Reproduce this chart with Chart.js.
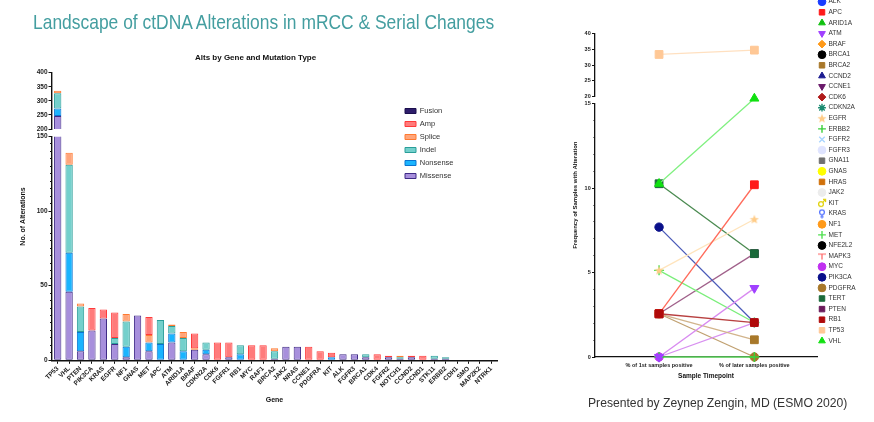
<!DOCTYPE html>
<html><head><meta charset="utf-8">
<script src="https://cdn.jsdelivr.net/npm/chart.js@4.4.1/dist/chart.umd.min.js"></script>
<style>
html,body{margin:0;padding:0;width:874px;height:422px;overflow:hidden;background:#fff;}
#wrap{position:relative;width:874px;height:422px;overflow:hidden;}
canvas{position:absolute;}
.t{position:absolute;white-space:nowrap;transform-origin:0 0;font-family:'Liberation Sans',Arial,sans-serif;}
</style></head><body>
<div id="wrap">
<canvas id="barChart" width="511" height="422" style="left:0;top:0"></canvas>
<canvas id="barLegend" width="140" height="110" style="left:390px;top:90px"></canvas>
<canvas id="lineChart" width="285" height="422" style="left:545px;top:0"></canvas>
<canvas id="lineLegend" width="69" height="380" style="left:805px;top:-10px"></canvas>
<div class="t" style="left:33px;top:10.5px;font-size:21px;line-height:21px;color:#449ea0;transform:scaleX(0.83)">Landscape of ctDNA Alterations in mRCC &amp; Serial Changes</div>
<div class="t" style="left:588px;top:396px;font-size:13.5px;line-height:13.5px;color:#333;transform:scaleX(0.9)">Presented by Zeynep Zengin, MD (ESMO 2020)</div>
</div>
<script>
// ---------- DATA: left chart ----------
const genes = ['TP53','VHL','PTEN','PIK3CA','KRAS','EGFR','NF1','GNAS','MET','APC','ATM','ARID1A','BRAF','CDKN2A','CDK6','FGFR1','RB1','MYC','RAF1','BRCA2','JAK2','NRAS','CCNE1','PDGFRA','KIT','ALK','FGFR3','BRCA1','CDK4','FGFR2','NOTCH1','CCND2','CCND1','STK11','ERBB2','CDH1','SMO','MAP2K2','NTRK1'];
const missense = [246,46,6,20,28,11,2,30,6,0,12,0,7,4,0,2,0,0,0,1,9,9,0,0,0,4,4,2,0,2,1,2,0,1,1,0,0,0,0];
const nonsense = [27,26,13,0,0,0,7,0,6,11,6,6,0,3,0,0,4,0,0,0,0,0,0,0,2,0,0,0,0,0,0,0,0,0,0,0,0,0,0];
const indel    = [54,59,17,0,0,4,17,0,0,16,5,9,0,5,0,0,6,0,0,5,0,0,0,0,0,0,0,2,0,0,1,0,0,2,1,0,0,0,0];
const splice   = [9,8,2,0,0,0,5,0,5,0,1,4,1,0,0,0,0,0,0,2,0,0,0,0,0,0,0,0,0,0,1,0,0,0,0,0,0,0,0];
const amp      = [0,0,0,15,6,17,0,0,12,0,0,0,10,0,12,10,0,10,10,0,0,0,9,6,3,0,0,0,4,1,0,1,3,0,0,0,0,0,0];
const fusion   = [0,0,0,0,0,0,0,0,0,0,0,0,0,0,0,0,0,0,0,0,0,0,0,0,0,0,0,0,0,0,0,0,0,0,0,0,0,0,0];
const seriesNames = ['Missense','Nonsense','Indel','Splice','Amp','Fusion'];
const seriesValues = [missense, nonsense, indel, splice, amp, fusion];

// ---------- DATA: right chart ----------
const timepoints = ['% of 1st samples positive', '% of later samples positive'];
const genesR = ['ALK','APC','ARID1A','ATM','BRAF','BRCA1','BRCA2','CCND2','CCNE1','CDK6','CDKN2A','EGFR','ERBB2','FGFR2','FGFR3','GNA11','GNAS','HRAS','JAK2','KIT','KRAS','NF1','MET','NFE2L2','MAPK3','MYC','PIK3CA','PDGFRA','TERT','PTEN','RB1','TP53','VHL'];
const firstPct = [null,2.56,null,0,null,null,2.56,null,null,null,null,5.13,0,null,null,null,null,null,null,null,null,null,5.13,null,null,0,7.69,2.56,10.26,2.56,2.56,33.33,10.26];
const laterPct = [null,10.2,null,4.08,null,null,1.02,null,null,null,null,8.16,0,null,null,null,null,null,null,null,null,null,2.04,null,null,2.04,2.04,0,6.12,6.12,2.04,34.69,15.31];

// ---------- STYLES ----------
const F = "'Liberation Sans', Arial, sans-serif";
Chart.defaults.font.family = F;
Chart.defaults.color = '#222';
Chart.defaults.animation = false;
Chart.defaults.responsive = false;
Chart.defaults.events = [];

const barFills   = ['#a78fdc','#1ab4fe','#74d0cc','#ffa57a','#ff7b7b','#2e1d6b'];
const barBorders = ['#3f2b86','#0a74d0','#2a9e99','#ff7a30','#ff3a3a','#1b0f4d'];

const markerStyles = ['circle','rect','triangle','triangleDown','rectRot','circle','rect','triangle','triangleDown','rectRot','star','star5','cross','crossRot','circle','rect','circle','rect','circle','male','female','circle','cross','circle','tack','circle','circle','circle','rect','rect','rect','rect','triangle'];
const markerColors = ['#1a3cff','#ff1a1a','#10c010','#a040ff','#ff9a1a','#000000','#a8782a','#1a1a90','#6a1a6a','#b01a1a','#1a8a70','#ffcc88','#3ad03a','#a8d4ff','#dfe4ff','#707070','#ffff00','#d0700a','#ececec','#e0d000','#5070ff','#ff9a1a','#50e050','#000000','#ff6060','#c030f0','#0a108a','#a8782a','#1a6a3a','#6a1a5a','#b00a0a','#ffc896','#10e010'];
const lineColors = ['#1a3cff','#ff6a5a','#10c010','#d88af0','#ff9a1a','#000','#d2b48c','#1a1a90','#6a1a6a','#b01a1a','#1a8a70','#ffe4bc','#66e066','#a8d4ff','#dfe4ff','#707070','#ffff00','#d0700a','#ececec','#e0d000','#5070ff','#ff9a1a','#7aee7a','#000','#ff6060','#d890f0','#4a5ab8','#c0a070','#4a8a50','#a0608a','#b84040','#ffe0c0','#80f080'];

function makeIcon(kind, color) {
  const c = document.createElement('canvas'); c.width = 10; c.height = 10;
  const g = c.getContext('2d'); g.fillStyle = color; g.strokeStyle = color; g.lineWidth = 1.2;
  if (kind === 'star5') {
    g.beginPath();
    for (let k = 0; k < 10; k++) { const r = k % 2 ? 2 : 4.8; const a = -Math.PI/2 + k*Math.PI/5; g.lineTo(5 + r*Math.cos(a), 5.4 + r*Math.sin(a)); }
    g.closePath(); g.fill();
  } else if (kind === 'male') {
    g.beginPath(); g.arc(4, 6, 2.4, 0, 2*Math.PI); g.stroke();
    g.beginPath(); g.moveTo(5.8, 4.2); g.lineTo(8.6, 1.4); g.moveTo(6, 1.4); g.lineTo(8.6, 1.4); g.lineTo(8.6, 4); g.stroke();
  } else if (kind === 'female') {
    g.beginPath(); g.arc(5, 3.6, 2.4, 0, 2*Math.PI); g.stroke();
    g.beginPath(); g.moveTo(5, 6); g.lineTo(5, 9.6); g.moveTo(3.2, 8); g.lineTo(6.8, 8); g.stroke();
  } else if (kind === 'tack') {
    g.beginPath(); g.moveTo(1, 3); g.lineTo(9, 3); g.moveTo(5, 3); g.lineTo(5, 8.5); g.stroke();
  }
  return c;
}
const iconCache = {};
function pointOpts(i) {
  const st = markerStyles[i], col = markerColors[i];
  let ps = st, rot = 0;
  if (st === 'triangleDown') { ps = 'triangle'; rot = 180; }
  if (['star5','male','female','tack'].includes(st)) { ps = iconCache[i] || (iconCache[i] = makeIcon(st, col)); }
  const radius = {rect:5.5, circle:4.2, triangle:5.2, triangleDown:5.2, rectRot:5, cross:5, crossRot:5, star:5}[st] || 5;
  const stroked = ['cross','crossRot','star'].includes(st);
  return {pointStyle: ps, pointRotation: rot, pointRadius: radius, pointBackgroundColor: col, pointBorderColor: col, pointBorderWidth: stroked ? 1.4 : 1};
}

// clip each bar dataset to the panel of its own y axis (broken axis)
const panelClip = {
  id: 'panelClip',
  beforeDatasetDraw(chart, args) {
    const ys = args.meta.yScale, a = chart.chartArea, ctx = chart.ctx;
    ctx.save(); ctx.beginPath(); ctx.rect(a.left, ys.top, a.right - a.left, ys.bottom - ys.top); ctx.clip();
  },
  afterDatasetDraw(chart) { chart.ctx.restore(); }
};

const axisCol = '#111';
const minorDash = (major) => (c) => (c.tick && c.tick.value % major !== 0) ? [0, 1.5, 2, 10] : [];

// ---------- LEFT: stacked bar with broken axis ----------
const barDatasets = [];
['yTop','yBot'].forEach(panel => {
  seriesNames.forEach((name, i) => {
    barDatasets.push({label: name, data: seriesValues[i], yAxisID: panel,
      backgroundColor: barFills[i], borderColor: barBorders[i], borderWidth: 1, borderSkipped: false,
      barPercentage: 0.64, categoryPercentage: 1});
  });
});
new Chart(document.getElementById('barChart'), {
  type: 'bar',
  data: {labels: genes, datasets: barDatasets},
  plugins: [panelClip],
  options: {
    devicePixelRatio: 1,
    layout: {padding: {left: 14.2, right: 14, top: 0, bottom: 16.7}},
    plugins: {
      legend: {display: false}, tooltip: {enabled: false},
      title: {display: true, text: 'Alts by Gene and Mutation Type', color: '#111', font: {size: 8, weight: 'bold'}, padding: {top: 53.2, bottom: 9.9}}
    },
    scales: {
      x: {type: 'category', stacked: true, offset: true, z: 1,
        grid: {display: true, drawOnChartArea: false, offset: false, tickLength: 3.5, tickColor: axisCol, tickWidth: 1},
        border: {display: true, color: axisCol, width: 1.4},
        ticks: {autoSkip: false, maxRotation: 45, minRotation: 45, padding: 1, color: '#222', font: {size: 6.5, weight: 'bold'}},
        title: {display: true, text: 'Gene', color: '#111', font: {size: 7, weight: 'bold'}, padding: {top: 0, bottom: 1.1}},
        afterFit(s) { s.height = 45; }},
      yTitle: {type: 'linear', position: 'left', weight: 10, min: 0, max: 1,
        grid: {display: false, drawTicks: false}, border: {display: false}, ticks: {display: false},
        title: {display: true, text: 'No. of Alterations', color: '#111', font: {size: 7, weight: 'bold'}, padding: {top: 4.6, bottom: 0}},
        afterFit(s) { s.width = 13.8; }},
      yTop: {type: 'linear', position: 'left', stack: 's', stackWeight: 56.3, weight: 3, stacked: true, min: 200, max: 400,
        ticks: {stepSize: 50, autoSkip: false, padding: 1, color: '#222', font: {size: 6.5, weight: 'bold'}},
        grid: {drawOnChartArea: false, tickLength: 3.5, tickColor: axisCol},
        border: {color: axisCol, width: 1.4},
        afterFit(s) { s.width = 24; }},
      yGap: {type: 'linear', position: 'left', stack: 's', stackWeight: 7.4, weight: 2, min: 0, max: 1,
        grid: {display: false, drawTicks: false}, border: {display: false}, ticks: {display: false},
        afterFit(s) { s.width = 24; }},
      yBot: {type: 'linear', position: 'left', stack: 's', stackWeight: 223.9, weight: 1, stacked: true, min: 0, max: 150,
        ticks: {stepSize: 5, autoSkip: false, padding: 1, color: '#222', font: {size: 6.5, weight: 'bold'}, callback: v => v % 50 === 0 ? v : ''},
        grid: {drawOnChartArea: false, tickLength: 3.5, tickColor: axisCol, tickBorderDash: minorDash(50)},
        border: {color: axisCol, width: 1.4},
        afterFit(s) { s.width = 24; }}
    }
  }
});

// legend of the bar chart
new Chart(document.getElementById('barLegend'), {
  type: 'bar',
  data: {labels: [], datasets: seriesNames.map((n, i) => ({label: n, data: [], backgroundColor: barFills[i], borderColor: barBorders[i], borderWidth: 1}))},
  options: {
    devicePixelRatio: 1,
    layout: {padding: {left: 9.5, top: 11.75}},
    scales: {x: {display: false}, y: {display: false}},
    plugins: {tooltip: {enabled: false},
      legend: {position: 'left', align: 'start', reverse: true, maxWidth: 100,
        labels: {boxWidth: 11, boxHeight: 5, color: '#333', font: {size: 7.5}, padding: 5.5}}}
  }
});

// ---------- RIGHT: paired line chart with broken axis ----------
const lineDatasets = genesR.map((g, i) => Object.assign({
  label: g,
  data: [{x: 0, y: firstPct[i]}, {x: 1, y: laterPct[i]}],
  yAxisID: Math.max(firstPct[i] || 0, laterPct[i] || 0) > 20 ? 'yTop' : 'yBot',
  borderColor: lineColors[i], borderWidth: 1.3, backgroundColor: markerColors[i],
  clip: false, order: (g === 'RB1' || g === 'VHL') ? -1 : 0
}, pointOpts(i)));

new Chart(document.getElementById('lineChart'), {
  type: 'line',
  data: {datasets: lineDatasets},
  options: {
    devicePixelRatio: 1,
    layout: {padding: {left: 20, right: 13, top: 33.3, bottom: 39}},
    plugins: {legend: {display: false}, tooltip: {enabled: false}},
    scales: {
      x: {type: 'linear', min: -0.672, max: 1.657, z: 1,
        afterBuildTicks(s) { s.ticks = timepoints.map((t, i) => ({value: i})); },
        ticks: {maxRotation: 0, autoSkip: false, padding: 2, color: '#222', font: {size: 5.5, weight: 'bold'}, callback: v => timepoints[v] || ''},
        grid: {drawOnChartArea: false, tickLength: 3, tickColor: axisCol},
        border: {color: axisCol, width: 1.3},
        title: {display: true, text: 'Sample Timepoint', color: '#111', font: {size: 6.5, weight: 'bold'}, padding: {top: 0, bottom: 3.1}},
        afterFit(s) { s.height = 26; }},
      yTitle: {type: 'linear', position: 'left', weight: 10, min: 0, max: 1,
        grid: {display: false, drawTicks: false}, border: {display: false}, ticks: {display: false},
        title: {display: true, text: 'Frequency of Samples with Alteration', color: '#111', font: {size: 6, weight: 'bold'}, padding: {top: 6.4, bottom: 0}},
        afterFit(s) { s.width = 15; }},
      yTop: {type: 'linear', position: 'left', stack: 's', stackWeight: 63.4, weight: 3, min: 20, max: 40,
        ticks: {stepSize: 5, autoSkip: false, padding: 1.3, color: '#222', font: {size: 5.5, weight: 'bold'}},
        grid: {drawOnChartArea: false, tickLength: 3, tickColor: axisCol},
        border: {color: axisCol, width: 1.3},
        afterFit(s) { s.width = 15; }},
      yGap: {type: 'linear', position: 'left', stack: 's', stackWeight: 7, weight: 2, min: 0, max: 1,
        grid: {display: false, drawTicks: false}, border: {display: false}, ticks: {display: false},
        afterFit(s) { s.width = 15; }},
      yBot: {type: 'linear', position: 'left', stack: 's', stackWeight: 253.3, weight: 1, min: 0, max: 15,
        ticks: {stepSize: 1, autoSkip: false, padding: 1.3, color: '#222', font: {size: 5.5, weight: 'bold'}, callback: v => v % 5 === 0 ? v : ''},
        grid: {drawOnChartArea: false, tickLength: 3, tickColor: axisCol, tickBorderDash: minorDash(5)},
        border: {color: axisCol, width: 1.3},
        afterFit(s) { s.width = 15; }}
    }
  }
});

// legend of the line chart
new Chart(document.getElementById('lineLegend'), {
  type: 'line',
  data: {labels: [], datasets: genesR.map((g, i) => Object.assign({label: g, data: [], borderColor: markerColors[i], backgroundColor: markerColors[i]}, pointOpts(i)))},
  options: {
    devicePixelRatio: 1,
    layout: {padding: {left: 9.65, top: 4.35}},
    scales: {x: {display: false}, y: {display: false}},
    plugins: {tooltip: {enabled: false},
      legend: {position: 'left', align: 'start', maxWidth: 62,
        labels: {usePointStyle: true, boxHeight: 5.5, color: '#333', font: {size: 6.5}, padding: 4.1}}}
  }
});
</script>
</body></html>
